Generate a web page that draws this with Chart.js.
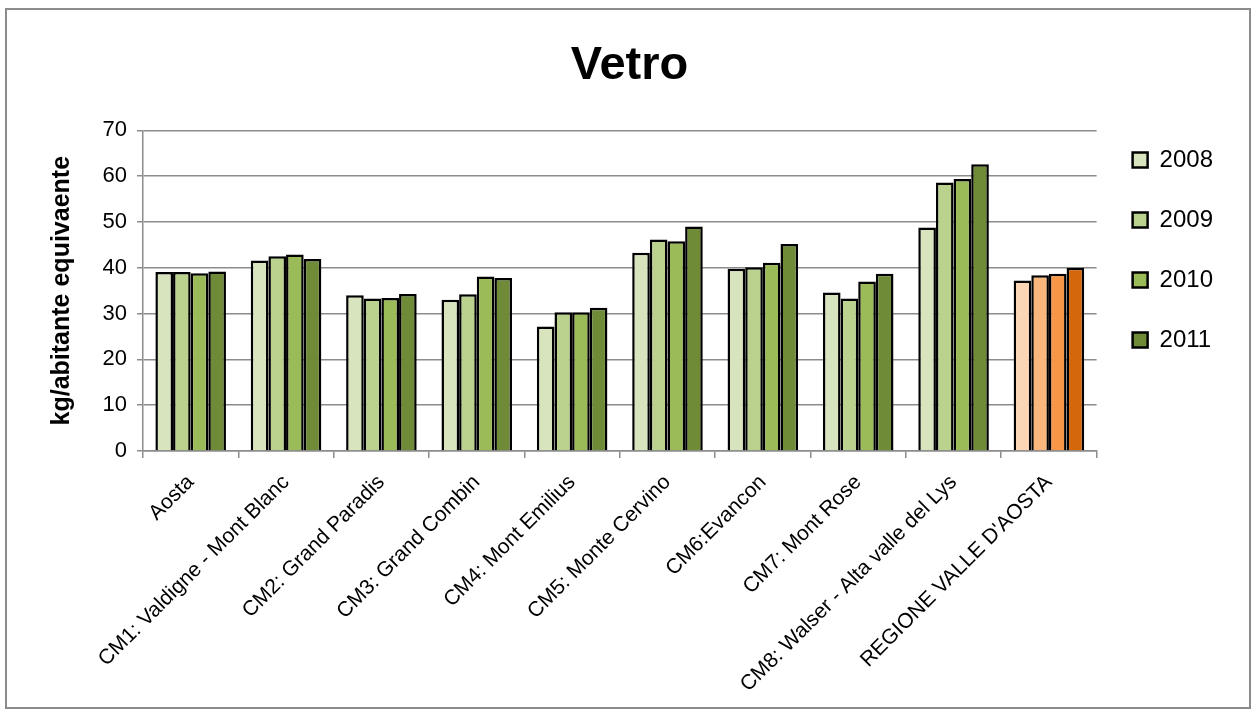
<!DOCTYPE html>
<html>
<head>
<meta charset="utf-8">
<script src="https://cdn.jsdelivr.net/npm/chart.js@4/dist/chart.umd.min.js"></script>
<style>
  html, body { margin: 0; padding: 0; background: #fff; }
  #wrap { width: 1256px; height: 713px; }
</style>
</head>
<body>
<div id="wrap"><canvas id="chart" width="1256" height="713"></canvas></div>
<script>
// categorie (comunità montane + totale regionale)
const categories = [
  "Aosta",
  "CM1: Valdigne - Mont Blanc",
  "CM2: Grand Paradis",
  "CM3: Grand Combin",
  "CM4: Mont Emilius",
  "CM5: Monte Cervino",
  "CM6:Evancon",
  "CM7: Mont Rose",
  "CM8: Walser - Alta valle del Lys",
  "REGIONE VALLE D'AOSTA"
];
const years = ["2008", "2009", "2010", "2011"];

// kg/abitante equivalente per anno
const v2008 = [39.1, 41.6, 34.0, 33.0, 27.2, 43.3, 39.8, 34.6, 48.8, 37.2];
const v2009 = [39.1, 42.5, 33.3, 34.2, 30.3, 46.2, 40.1, 33.3, 58.6, 38.4];
const v2010 = [38.8, 42.9, 33.4, 38.1, 30.3, 45.8, 41.1, 37.0, 59.4, 38.7];
const v2011 = [39.2, 41.9, 34.3, 37.8, 31.3, 49.0, 45.2, 38.7, 62.6, 40.0];

const yTicks = [0, 10, 20, 30, 40, 50, 60, 70];

// colori: verdi per le CM, arancio per la regione
const greens = ["#D7E4BD", "#BBD18E", "#9BBB59", "#6F8B38"];
const oranges = ["#FCD5B4", "#F9B77E", "#F79646", "#D4670B"];

const FONT = "'Liberation Sans', Arial, sans-serif";

function colorsFor(i) {
  return categories.map((c, k) => k === categories.length - 1 ? oranges[i] : greens[i]);
}

const series = [v2008, v2009, v2010, v2011];
const datasets = series.map((vals, i) => ({
  label: years[i],
  data: vals,
  backgroundColor: colorsFor(i),
  borderColor: "#000",
  borderWidth: 2.5,
  borderSkipped: "bottom",
  categoryPercentage: 0.74,
  barPercentage: 1.0
}));

// bordo esterno e sfondo bianco
const frame = {
  id: "frame",
  beforeDraw(chart) {
    const ctx = chart.ctx;
    ctx.save();
    ctx.fillStyle = "#fff";
    ctx.fillRect(0, 0, chart.width, chart.height);
    ctx.strokeStyle = "#8c8c8c";
    ctx.lineWidth = 2;
    ctx.strokeRect(6, 9, 1244, 699);
    ctx.restore();
  }
};

const ctx = document.getElementById("chart").getContext("2d");
new Chart(ctx, {
  type: "bar",
  data: { labels: categories, datasets: datasets },
  plugins: [frame],
  options: {
    responsive: false,
    animation: false,
    layout: { padding: { top: 38, left: 36, right: 33, bottom: 0 } },
    plugins: {
      title: {
        display: true,
        text: "Vetro",
        color: "#000",
        font: { family: FONT, size: 47, weight: "bold" },
        padding: { top: 0, bottom: 36 }
      },
      legend: {
        position: "right",
        align: "start",
        // titolo vuoto usato come spaziatura sopra le voci
        title: {
          display: true,
          text: "",
          font: { size: 10, lineHeight: 1 },
          padding: { top: 64, bottom: 0 }
        },
        labels: {
          color: "#000",
          font: { family: FONT, size: 24 },
          boxWidth: 15,
          boxHeight: 15,
          padding: 36,
          generateLabels(chart) {
            return years.map((y, i) => ({
              text: y,
              fillStyle: greens[i],
              strokeStyle: "#000",
              fontColor: "#000",
              lineWidth: 2.5,
              datasetIndex: i,
              hidden: false
            }));
          }
        }
      },
      tooltip: { enabled: false }
    },
    scales: {
      x: {
        offset: true,
        afterFit(axis) { axis.height = 262; },
        grid: {
          offset: true,
          drawOnChartArea: false,
          drawTicks: true,
          tickLength: 7,
          color: "#8c8c8c",
          lineWidth: 1.5
        },
        border: { color: "#8c8c8c", width: 1.5 },
        ticks: {
          color: "#000",
          font: { family: FONT, size: 21 },
          minRotation: 45,
          maxRotation: 45,
          padding: 12,
          autoSkip: false
        }
      },
      y: {
        min: 0,
        max: 70,
        afterFit(axis) { axis.width = 107; },
        afterBuildTicks(axis) {
          axis.ticks = yTicks.map(v => ({ value: v }));
        },
        grid: {
          color: "#8c8c8c",
          lineWidth: 1.5,
          tickLength: 6
        },
        border: { color: "#8c8c8c", width: 1.5 },
        ticks: {
          color: "#000",
          font: { family: FONT, size: 22 },
          padding: 10
        },
        title: {
          display: true,
          text: "kg/abitante equivaente",
          color: "#000",
          font: { family: FONT, size: 25, weight: "bold" },
          padding: { top: 11, bottom: 0 }
        }
      }
    }
  }
});
</script>
</body>
</html>
